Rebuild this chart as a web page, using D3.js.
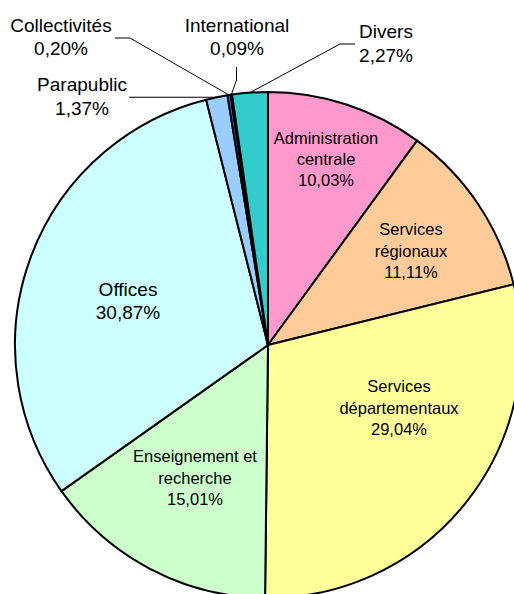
<!DOCTYPE html>
<html>
<head>
<meta charset="utf-8">
<script src="https://cdn.jsdelivr.net/npm/d3@7"></script>
<style>
  body { margin: 0; background: #fff; }
  svg { display: block; }
  text { font-family: "Liberation Sans", Arial, sans-serif; fill: #000; }
</style>
</head>
<body>
<div id="chart"></div>
<script>
// Data
const categories = ["Administration centrale", "Services régionaux", "Services départementaux",
  "Enseignement et recherche", "Offices", "Parapublic", "Collectivités", "International", "Divers"];
const shares = [10.03, 11.11, 29.04, 15.01, 30.87, 1.37, 0.20, 0.09, 2.27];
const colors = ["#ff99cc", "#ffcc99", "#ffff99", "#ccffcc", "#ccffff", "#99ccff", "#3366ff", "#000080", "#33cccc"];

// label layout: text lines, anchor, font size, optional leader line
const labelLayout = [
  { lines: ["Administration", "centrale"], x: 326, y: 144, size: 16.5, lh: 21 },
  { lines: ["Services", "régionaux"], x: 411, y: 235, size: 16.5, lh: 21.5 },
  { lines: ["Services", "départementaux"], x: 399, y: 392, size: 16.5, lh: 21.5 },
  { lines: ["Enseignement et", "recherche"], x: 195, y: 462, size: 16.5, lh: 21.5 },
  { lines: ["Offices"], x: 128, y: 296, size: 19, lh: 22.5 },
  { lines: ["Parapublic"], x: 82, y: 91, size: 19, lh: 24, leader: [[129, null]] },
  { lines: ["Collectivités"], x: 61, y: 32, size: 19, lh: 23, leader: [[115, 38], [130, 38]] },
  { lines: ["International"], x: 237, y: 32, size: 19, lh: 23, leader: [[236.5, 67], [236.5, 80]] },
  { lines: ["Divers"], x: 386, y: 38, size: 19, lh: 24, leader: [[355, 44], [340, 44]] }
];

const width = 514;
const height = 594;
const cx = 268, cy = 345, radius = 253;

const fmt = v => v.toFixed(2).replace(".", ",") + "%";

const svg = d3.select("#chart")
    .append("svg")
    .attr("width", width)
    .attr("height", height);

const g = svg.append("g").attr("transform", `translate(${cx},${cy})`);

const pie = d3.pie().sort(null).value(d => d.value);
const arcs = pie(shares.map((v, i) => ({ name: categories[i], value: v, color: colors[i] })));

const arc = d3.arc().innerRadius(0).outerRadius(radius);
const edgeArc = d3.arc().innerRadius(radius).outerRadius(radius);

// Slices
g.selectAll(".slice")
    .data(arcs)
    .enter().append("path")
    .attr("class", "slice")
    .attr("d", arc)
    .attr("fill", d => d.data.color)
    .attr("stroke", "#000")
    .attr("stroke-width", 2)
    .attr("stroke-linejoin", "round");

// Leader lines
arcs.forEach((d, i) => {
    const lay = labelLayout[i];
    if (!lay.leader) return;
    const [ex, ey] = edgeArc.centroid(d);
    const pts = lay.leader.map(p => [p[0] - cx, (p[1] === null ? ey + cy : p[1]) - cy]);
    pts.push([ex, ey]);
    g.append("path")
        .attr("d", d3.line()(pts))
        .attr("fill", "none")
        .attr("stroke", "#000")
        .attr("stroke-width", 1);
});

// Labels
arcs.forEach((d, i) => {
    const lay = labelLayout[i];
    const lines = lay.lines.concat([fmt(d.data.value)]);
    const t = svg.append("text")
        .attr("text-anchor", "middle")
        .attr("font-size", lay.size);
    lines.forEach((ln, k) => {
        t.append("tspan")
            .attr("x", lay.x)
            .attr("y", lay.y + k * lay.lh)
            .text(ln);
    });
});
</script>
</body>
</html>
